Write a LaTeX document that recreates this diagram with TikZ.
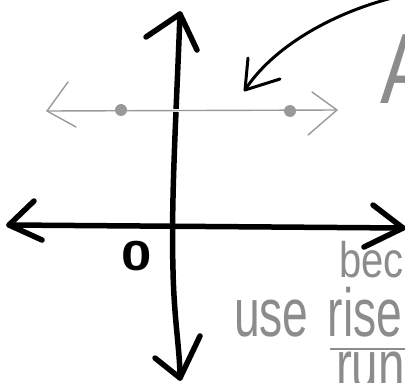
\documentclass[tikz,border=0pt]{standalone}
\usepackage{fontspec}
\setmainfont{Liberation Sans}
\begin{document}
\begin{tikzpicture}[x=1pt,y=-1pt,
  axis/.style={line width=5.5pt,line cap=round,line join=round,black},
  pen/.style={line width=3pt,line cap=round,line join=round,black},
  faint/.style={line width=1.4pt,line cap=round,line join=round,black!40},
  hand/.style={text=black!45,inner sep=0pt,font=\fontsize{68}{68}\selectfont}]
\useasboundingbox (0,0) rectangle (405,383);
\clip (0,0) rectangle (405,383);
% vertical axis
\coordinate (vt) at (180,14);
\coordinate (vb) at (180,378);
\coordinate (vtl) at (146,37);
\coordinate (vtr) at (197,50);
\coordinate (vbl) at (155,358);
\coordinate (vbr) at (200,336);
\draw[axis] (vt) .. controls (176,120) and (171,200) .. (173,270) .. controls (174,320) and (180,350) .. (vb);
\draw[axis] (vtl) -- (vt) -- (vtr);
\draw[axis] (vbl) -- (vb) -- (vbr);
% horizontal axis
\coordinate (hl) at (9,225);
\coordinate (hr) at (403,228);
\coordinate (hll) at (34,201);
\coordinate (hlr) at (42,240);
\coordinate (hrl) at (373,205);
\coordinate (hrr) at (364,247);
\draw[axis] (hl) -- (hr);
\draw[axis] (hll) -- (hl) -- (hlr);
\draw[axis] (hrl) -- (hr) -- (hrr);
% origin label
\node[inner sep=0pt,xscale=1.3,font=\bfseries\fontsize{42}{42}\selectfont] (zero) at (137,256) {0};
% faint horizontal line
\coordinate (gl) at (47,111);
\coordinate (gr) at (337,110);
\coordinate (gll) at (68,82);
\coordinate (glr) at (76,127);
\coordinate (grl) at (312,92);
\coordinate (grr) at (308,135);
\draw[white,line width=3pt] (165,110.5) -- (190,110.5);
\draw[faint] (gl) -- (gr);
\draw[faint] (gll) -- (gl) -- (glr);
\draw[faint] (grl) -- (gr) -- (grr);
\fill[black!40] (121,110) circle (6) coordinate (d1);
\fill[black!40] (290,111) circle (6) coordinate (d2);
% curved pointer
\coordinate (cs) at (392,-2);
\coordinate (ct) at (245,90);
\coordinate (cl) at (248,58);
\coordinate (cr) at (280,79);
\draw[pen] (cs) .. controls (330,14) and (272,48) .. (ct);
\draw[pen] (cl) -- (ct) -- (cr);
% texts
\node[hand,anchor=base west,xscale=0.8,font=\fontsize{100}{100}\selectfont] (A) at (380,103) {A};
\node[hand,anchor=base west,xscale=0.8,font=\fontsize{50}{50}\selectfont] (bec) at (339,277) {bec};
\node[hand,anchor=base west,xscale=0.68] (use) at (234,336) {use\hspace{28pt}rise};
\coordinate (fl) at (330,349);
\coordinate (fr) at (405,349);
\draw[black!45,line width=1.4pt] (fl) -- (fr);
\node[hand,anchor=base west,xscale=0.7] (run) at (336,388) {run};
\end{tikzpicture}
\end{document}
